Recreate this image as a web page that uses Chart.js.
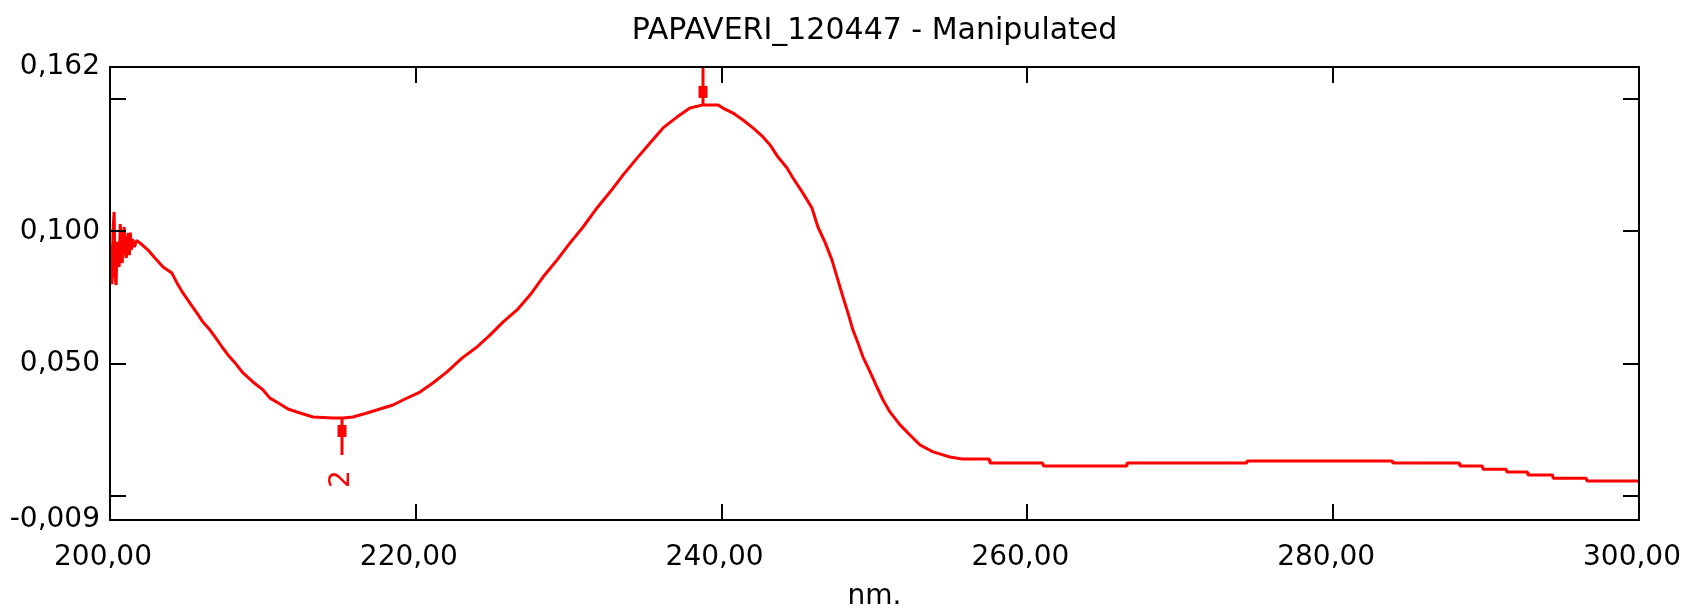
<!DOCTYPE html>
<html>
<head>
<meta charset="utf-8">
<script src="https://cdn.jsdelivr.net/npm/chart.js@4/dist/chart.umd.min.js"></script>
<style>
  html, body { margin: 0; padding: 0; background: #fff; }
  #wrap { width: 1684px; height: 608px; position: relative; }
</style>
</head>
<body>
<div id="wrap"><canvas id="chart"></canvas></div>
<script>
// spectrum PAPAVERI_120447
const wavelength = [
  200.00, 200.07, 200.13, 200.20, 200.27, 200.33, 200.40, 200.47, 200.53, 200.60,
  200.67, 200.73, 200.80, 200.87, 200.93, 201.00, 201.07, 201.13, 201.20, 201.27,
  201.33, 201.40, 201.47, 201.60, 201.73, 201.96,
  202.49, 202.94, 203.47, 204.05, 204.38, 204.77, 205.23, 205.69, 206.08, 206.54,
  206.87, 207.33, 207.72, 208.18, 208.70, 209.35, 210.01, 210.46, 211.12, 211.64,
  212.43, 213.28, 214.58, 215.24, 215.89, 216.81, 217.66, 218.51, 219.16, 220.27,
  221.12, 222.04, 223.02, 224.00, 224.85, 225.70, 226.62, 227.47, 228.32, 229.23,
  230.09, 230.94, 231.85, 232.70, 233.55, 234.47, 235.32, 236.17, 237.08, 237.93,
  238.78, 239.76, 240.09, 240.75, 241.40, 242.05, 242.71, 243.17, 243.69, 244.28,
  244.67, 245.32, 245.91, 246.30, 246.76, 247.22, 247.55, 247.94, 248.27, 248.59,
  248.92, 249.25, 249.71, 250.16, 250.56, 251.01, 251.67, 252.32, 252.98, 253.83,
  254.94, 255.72, 257.50, 257.55, 261.00, 261.05, 266.45, 266.51, 274.30, 274.36,
  283.85, 283.91, 288.25, 288.29, 289.75, 289.80, 291.30, 291.37, 292.70, 292.74,
  294.35, 294.38, 296.55, 296.60, 300.00
];
const absorbance = [
  0.0840, 0.0950, 0.0800, 0.1005, 0.1073, 0.0830, 0.0797, 0.0960, 0.0900, 0.0865,
  0.1027, 0.0940, 0.0880, 0.0990, 0.1016, 0.0920, 0.0899, 0.0970, 0.0993, 0.0910,
  0.0995, 0.0930, 0.0970, 0.0940, 0.0965, 0.0956,
  0.0929, 0.0899, 0.0865, 0.0842, 0.0805, 0.0767, 0.0729, 0.0691, 0.0657, 0.0627,
  0.0601, 0.0563, 0.0533, 0.0503, 0.0465, 0.0431, 0.0401, 0.0370, 0.0348, 0.0329,
  0.0314, 0.0299, 0.0295, 0.0295, 0.0299, 0.0314, 0.0329, 0.0344, 0.0363, 0.0393,
  0.0427, 0.0469, 0.0521, 0.0563, 0.0608, 0.0657, 0.0703, 0.0759, 0.0827, 0.0891,
  0.0956, 0.1016, 0.1088, 0.1148, 0.1212, 0.1276, 0.1333, 0.1390, 0.1431, 0.1465,
  0.1477, 0.1477, 0.1465, 0.1446, 0.1420, 0.1390, 0.1356, 0.1326, 0.1280, 0.1239,
  0.1201, 0.1144, 0.1088, 0.1016, 0.0959, 0.0891, 0.0827, 0.0752, 0.0691, 0.0627,
  0.0578, 0.0525, 0.0469, 0.0412, 0.0363, 0.0318, 0.0269, 0.0231, 0.0193, 0.0167,
  0.0148, 0.0140, 0.0140, 0.0125, 0.0125, 0.0114, 0.0114, 0.0125, 0.0125, 0.0133,
  0.0133, 0.0125, 0.0125, 0.0114, 0.0114, 0.0102, 0.0102, 0.0091, 0.0091, 0.0080,
  0.0080, 0.0068, 0.0068, 0.0057, 0.0057
];

// peak / valley markers
const markerNm = [238.8, 215.2];
const markerAbs = [0.1477, 0.0295];
const markerSide = ['up', 'down'];
const markerLabels = ['', '2'];

// axes
const xTickValues = [200, 220, 240, 260, 280, 300];
const yLabelValues = [-0.009, 0.05, 0.1, 0.162];
const yMarkValues = [0, 0.05, 0.1, 0.15];
const xMarkValues = [220, 240, 260, 280];

const chartTitle = 'PAPAVERI_120447 - Manipulated';
const xTitle = 'nm.';

const FONT = 'DejaVu Sans';
const RED = '#ff0000';

const framePlugin = {
  id: 'frame',
  afterDatasetsDraw(chart) {
    const { ctx, chartArea: a, scales: { x, y } } = chart;
    ctx.save();
    ctx.strokeStyle = '#000';
    ctx.lineWidth = 2;
    ctx.strokeRect(a.left, a.top, a.right - a.left, a.bottom - a.top);
    ctx.beginPath();
    yMarkValues.forEach(v => {
      const py = Math.round(y.getPixelForValue(v));
      ctx.moveTo(a.left, py); ctx.lineTo(a.left + 16, py);
      ctx.moveTo(a.right, py); ctx.lineTo(a.right - 16, py);
    });
    xMarkValues.forEach(v => {
      const px = Math.round(x.getPixelForValue(v));
      ctx.moveTo(px, a.top); ctx.lineTo(px, a.top + 16);
      ctx.moveTo(px, a.bottom); ctx.lineTo(px, a.bottom - 16);
    });
    ctx.stroke();

    // markers
    ctx.strokeStyle = RED;
    ctx.fillStyle = RED;
    ctx.lineWidth = 3;
    markerNm.forEach((nm, i) => {
      const px = Math.round(x.getPixelForValue(nm));
      const py = y.getPixelForValue(markerAbs[i]);
      const dir = markerSide[i] === 'up' ? -1 : 1;
      ctx.beginPath();
      ctx.moveTo(px, py);
      ctx.lineTo(px, py + dir * 37);
      ctx.stroke();
      const r1 = py + dir * 7, r2 = py + dir * 19;
      ctx.fillRect(px - 4.5, Math.min(r1, r2), 9, Math.abs(r2 - r1));
      if (markerLabels[i]) {
        ctx.save();
        ctx.translate(px, py + dir * 61);
        ctx.rotate(-Math.PI / 2);
        ctx.font = '28px "' + FONT + '"';
        ctx.textAlign = 'center';
        ctx.textBaseline = 'middle';
        ctx.fillText(markerLabels[i], 0, 0);
        ctx.restore();
      }
    });

    // title centred over the plot
    ctx.fillStyle = '#000';
    ctx.font = '30px "' + FONT + '"';
    ctx.textAlign = 'center';
    ctx.textBaseline = 'alphabetic';
    ctx.fillText(chartTitle, (a.left + a.right) / 2, 39);
    ctx.restore();
  }
};

const tickFont = { family: FONT, size: 28 };

new Chart(document.getElementById('chart'), {
  type: 'line',
  data: {
    datasets: [{
      label: chartTitle,
      data: wavelength.map((w, i) => ({ x: w, y: absorbance[i] })),
      borderColor: RED,
      backgroundColor: RED,
      borderWidth: 3,
      borderJoinStyle: 'bevel',
      pointRadius: 0,
      tension: 0,
      fill: false
    }]
  },
  options: {
    responsive: true,
    maintainAspectRatio: false,
    animation: false,
    layout: { padding: { top: 67, right: 45, left: 0, bottom: 0 } },
    plugins: {
      legend: { display: false },
      tooltip: { enabled: false },
      title: { display: false }
    },
    scales: {
      x: {
        type: 'linear',
        min: 200,
        max: 300,
        afterBuildTicks: s => { s.ticks = xTickValues.map(v => ({ value: v })); },
        afterFit: s => { s.height = 88; s.paddingLeft = 0; s.paddingRight = 0; },
        ticks: {
          autoSkip: false,
          maxRotation: 0,
          padding: 21,
          labelOffset: -7,
          color: '#000',
          font: tickFont,
          callback: v => v.toFixed(2).replace('.', ',')
        },
        grid: { display: false, drawTicks: false },
        border: { display: false },
        title: {
          display: true,
          text: xTitle,
          color: '#000',
          font: { family: FONT, size: 28, lineHeight: 0.72 },
          padding: { top: 0, bottom: 1 }
        }
      },
      y: {
        min: -0.009,
        max: 0.162,
        afterBuildTicks: s => { s.ticks = yLabelValues.map(v => ({ value: v })); },
        afterFit: s => { s.width = 110; },
        ticks: {
          autoSkip: false,
          padding: 10,
          color: '#000',
          font: tickFont,
          callback: v => v.toFixed(3).replace('.', ',')
        },
        grid: { display: false, drawTicks: false },
        border: { display: false }
      }
    }
  },
  plugins: [framePlugin]
});
</script>
</body>
</html>
